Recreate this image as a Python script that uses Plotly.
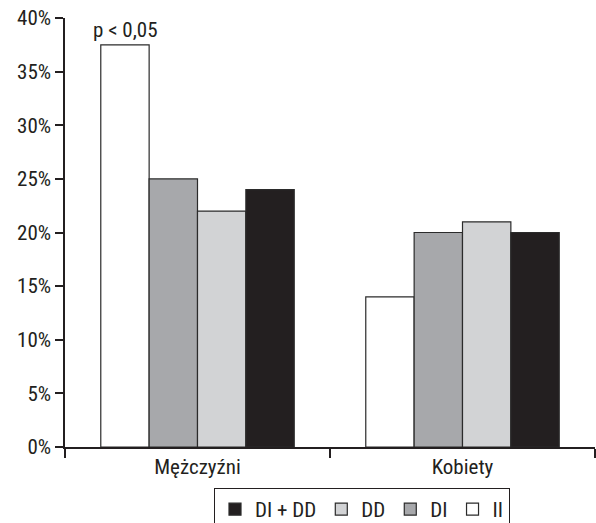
import plotly.graph_objects as go

categories = ["Mężczyźni", "Kobiety"]
series_names = ["II", "DI", "DD", "DI + DD"]
values_II = [37.5, 14]
values_DI = [25, 20]
values_DD = [22, 21]
values_DIDD = [24, 20]
annot_label = "p < 0,05"
y_ticks = [0, 5, 10, 15, 20, 25, 30, 35, 40]
y_labels = [f"{t}%" for t in y_ticks]

colors = ["#ffffff", "#a7a8ab", "#d2d3d5", "#231f20"]
FONT = "Roboto Condensed, Liberation Sans Narrow, Arial Narrow, sans-serif"
FS = 21

fig = go.Figure()
for name, vals, col in zip(series_names, [values_II, values_DI, values_DD, values_DIDD], colors):
    fig.add_trace(go.Bar(
        x=categories, y=vals, name=name,
        marker=dict(color=col, line=dict(color="#2b2b2b", width=1.2)),
    ))

# significance label above the first (II) bar of Mężczyźni
fig.add_annotation(
    x=categories[0], y=values_II[0], xref="x", yref="y",
    text=annot_label, showarrow=False, yanchor="bottom", yshift=1,
    xshift=-72, font=dict(size=FS, family=FONT, color="#231f20"),
)

fig.update_layout(
    width=596, height=523,
    margin=dict(l=65, r=1, t=18, b=76),
    paper_bgcolor="white", plot_bgcolor="white",
    barmode="group", bargap=0.27, bargroupgap=0,
    font=dict(family=FONT, size=FS, color="#231f20"),
    showlegend=True,
    legend=dict(
        orientation="h", traceorder="reversed",
        xref="container", yref="container",
        x=362 / 596, xanchor="center", y=1 - 488 / 523, yanchor="top",
        bordercolor="#231f20", borderwidth=1,
        font=dict(size=FS, family=FONT),
        itemwidth=30,
    ),
)
fig.update_yaxes(
    range=[0, 40], tickvals=y_ticks, ticktext=y_labels,
    showgrid=False, zeroline=False, automargin=False,
    showline=True, linecolor="#231f20", linewidth=1.5,
    ticks="outside", ticklen=8, tickcolor="#231f20", tickwidth=1.5,
    tickfont=dict(size=FS, family=FONT),
)
fig.update_xaxes(
    showgrid=False, showline=True, linecolor="#231f20", linewidth=1.5, automargin=False,
    ticks="outside", tickson="boundaries", ticklen=9, tickcolor="#231f20", tickwidth=1.5,
    tickfont=dict(size=FS, family=FONT),
)
# small extension of y axis below zero (axis crossing)
fig.add_shape(type="line", xref="paper", yref="paper", x0=0, x1=0, y0=0, y1=-0.022,
              line=dict(color="#231f20", width=1.5))

fig.write_html("out.html", config={"displayModeBar": False},
               post_script="document.body.style.margin='0';")
